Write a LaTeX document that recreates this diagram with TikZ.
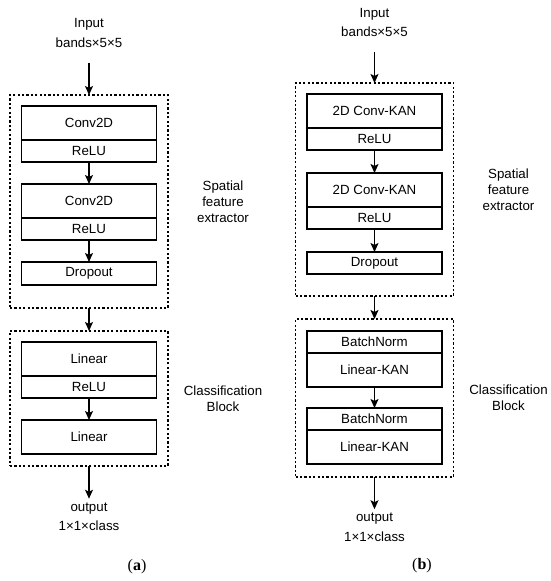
\documentclass[tikz,border=0pt]{standalone}
\usepackage{fontspec}
\setmainfont{Liberation Sans}
\newfontfamily\capfont{Liberation Serif}
\usetikzlibrary{positioning,calc,arrows.meta}

\begin{document}
\begin{tikzpicture}[x=1pt,y=1pt,
    blk/.style={draw,line width=1.2pt,minimum width=135pt,minimum height=34pt,inner sep=0pt,outer sep=0pt,font=\fontsize{13.3}{16}\selectfont},
    act/.style={blk,minimum height=22pt},
    stage/.style={draw,line width=1.2pt,dash pattern=on 2.2pt off 2.2pt,minimum width=158pt,inner sep=0pt,outer sep=0pt},
    lbl/.style={align=center,inner sep=0pt,font=\fontsize{13.3}{19.5}\selectfont},
    side/.style={align=center,inner sep=0pt,font=\fontsize{13.3}{16}\selectfont},
    arr/.style={-{Stealth[length=9pt,width=8pt,inset=2pt]},line width=1.2pt}]
    \useasboundingbox (0,0) rectangle (550,-581);

    % (a)
    \node[lbl] (ina) at (89,-33) {Input\\bands×5×5};
    \node[stage,minimum height=213pt] (sfa) at (89,-201.5) {};
    \node[blk] (conv1a) [below=11pt of sfa.north] {Conv2D};
    \node[act] (relu1a) [below=0pt of conv1a] {ReLU};
    \node[blk] (conv2a) [below=22pt of relu1a] {Conv2D};
    \node[act] (relu2a) [below=0pt of conv2a] {ReLU};
    \node[act,minimum height=23pt] (dropa) [below=22pt of relu2a] {Dropout};
    \node[stage,minimum height=135pt] (cba) [below=23pt of sfa] {};
    \node[blk] (lin1a) [below=11pt of cba.north] {Linear};
    \node[act] (relu3a) [below=0pt of lin1a] {ReLU};
    \node[blk] (lin2a) [below=22pt of relu3a] {Linear};
    \node[lbl] (outa) at (89,-517) {output\\1×1×class};
    \node[side] (sfla) at ($(sfa.east)+(55,0)$) {Spatial\\feature\\extractor};
    \node[side] (cbla) at ($(cba.east)+(55,0)$) {Classification\\Block};
    \node[font=\capfont\fontsize{16}{18}\selectfont] (capa) at (137,-567) {(\textbf{a})};

    \draw[arr,shorten <=15pt] (ina) -- (sfa);
    \draw[arr] (relu1a) -- (conv2a);
    \draw[arr] (relu2a) -- (dropa);
    \draw[arr] (sfa) -- (cba);
    \draw[arr] (relu3a) -- (lin2a);
    \draw[arr,shorten >=4pt] (cba) -- (outa);

    % (b)
    \node[lbl] (inb) at (374.5,-22.5) {Input\\bands×5×5};
    \node[stage,minimum height=213pt] (sfb) at (374.5,-189.5) {};
    \node[blk] (conv1b) [below=11pt of sfb.north] {2D Conv-KAN};
    \node[act] (relu1b) [below=0pt of conv1b] {ReLU};
    \node[blk] (conv2b) [below=23pt of relu1b] {2D Conv-KAN};
    \node[act] (relu2b) [below=0pt of conv2b] {ReLU};
    \node[act] (dropb) [below=23pt of relu2b] {Dropout};
    \node[stage,minimum height=158pt] (cbb) [below=23pt of sfb] {};
    \node[act] (bn1b) [below=12pt of cbb.north] {BatchNorm};
    \node[blk] (lk1b) [below=0pt of bn1b] {Linear-KAN};
    \node[act] (bn2b) [below=21pt of lk1b] {BatchNorm};
    \node[blk] (lk2b) [below=0pt of bn2b] {Linear-KAN};
    \node[lbl] (outb) at (374.5,-527.5) {output\\1×1×class};
    \node[side] (sflb) at ($(sfb.east)+(55,0)$) {Spatial\\feature\\extractor};
    \node[side] (cblb) at ($(cbb.east)+(55,0)$) {Classification\\Block};
    \node[font=\capfont\fontsize{16}{18}\selectfont] (capb) at (422,-566) {(\textbf{b})};

    \draw[arr,shorten <=15pt] (inb) -- (sfb);
    \draw[arr] (relu1b) -- (conv2b);
    \draw[arr] (relu2b) -- (dropb);
    \draw[arr] (sfb) -- (cbb);
    \draw[arr] (lk1b) -- (bn2b);
    \draw[arr,shorten >=4pt] (cbb) -- (outb);
\end{tikzpicture}
\end{document}
